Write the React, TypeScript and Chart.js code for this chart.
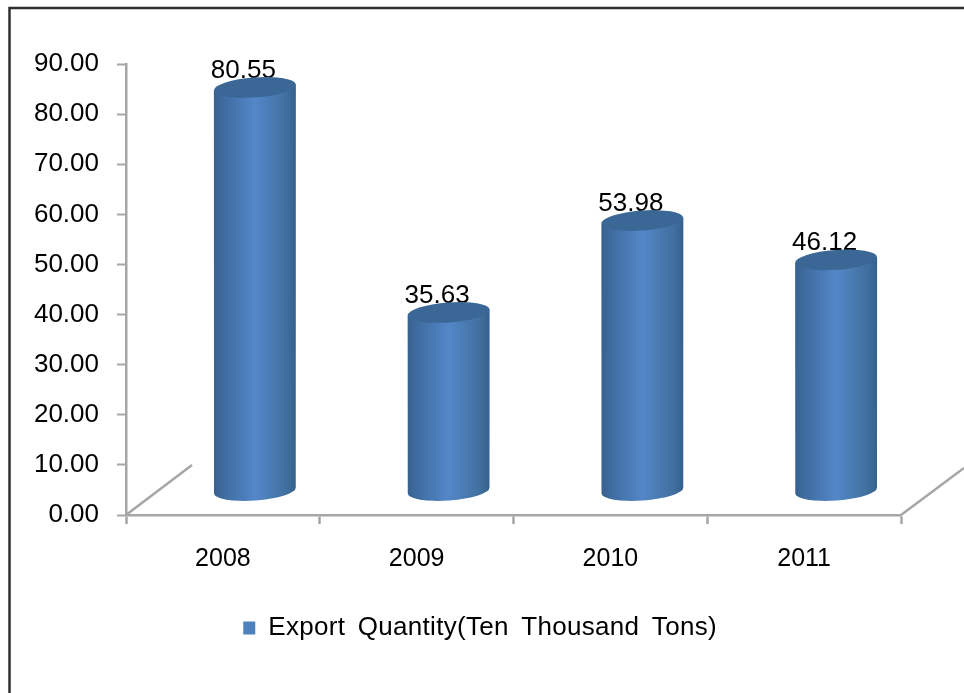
import React, { useEffect, useRef } from "react";
import { Chart, registerables } from "chart.js";

Chart.register(...registerables);

const categories = ["2008", "2009", "2010", "2011"];
const seriesName = "Export Quantity(Ten Thousand Tons)";
const exportQuantity = [80.55, 35.63, 53.98, 46.12];
const FONT = "'Liberation Sans', Arial, sans-serif";

const framePlugin = {
  id: "frame",
  afterLayout(chart: any) {
    const legend = chart.legend;
    if (legend && !legend.__wrapped) {
      legend.__wrapped = true;
      const original = legend.draw.bind(legend);
      legend.draw = () => {
        const c = chart.ctx;
        c.save();
        c.wordSpacing = "5px";
        c.letterSpacing = "0.3px";
        original();
        c.restore();
      };
    }
    if (legend) {
      legend.left += 17;
      legend.right += 17;
    }
  },
  beforeDraw(chart: any) {
    const { ctx, chartArea: a, width, height } = chart;
    ctx.save();
    ctx.fillStyle = "#fff";
    ctx.fillRect(0, 0, width, height);
    ctx.strokeStyle = "#2f2f2f";
    ctx.lineWidth = 2.5;
    ctx.beginPath();
    ctx.moveTo(9.5, height);
    ctx.lineTo(9.5, 8);
    ctx.lineTo(width, 8);
    ctx.stroke();
    ctx.strokeStyle = "#a6a6a6";
    ctx.lineWidth = 2.5;
    ctx.beginPath();
    ctx.moveTo(a.left, a.bottom);
    ctx.lineTo(a.left + 66, a.bottom - 50);
    ctx.moveTo(a.right, a.bottom);
    ctx.lineTo(width, a.bottom - 47);
    ctx.stroke();
    ctx.restore();
  },
};

const cylinderPlugin = {
  id: "cylinders",
  afterDatasetsDraw(chart: any) {
    const { ctx } = chart;
    const meta = chart.getDatasetMeta(0);
    const dx = 32;
    const dy = -24;
    const tilt = (-4.2 * Math.PI) / 180;
    const ry = 10;
    meta.data.forEach((bar: any, i: number) => {
      ctx.save();
      ctx.fillStyle = "#000";
      ctx.font = `26px ${FONT}`;
      ctx.textAlign = "center";
      ctx.textBaseline = "middle";
      ctx.fillText(exportQuantity[i].toFixed(2), bar.x + 20.5, bar.y - 41);
      ctx.restore();
    });
    meta.data.forEach((bar: any) => {
      const cx = bar.x + dx;
      const top = bar.y + dy;
      const base = bar.base + dy;
      const rx = bar.width / 2;
      const skew = rx * Math.sin(tilt);
      const g = ctx.createLinearGradient(cx - rx, 0, cx + rx, 0);
      g.addColorStop(0, "#38618f");
      g.addColorStop(0.12, "#3f6ca0");
      g.addColorStop(0.5, "#5387c8");
      g.addColorStop(0.88, "#41709f");
      g.addColorStop(1, "#36608c");
      ctx.save();
      ctx.fillStyle = g;
      ctx.beginPath();
      ctx.ellipse(cx, base, rx, ry, tilt, 0, Math.PI);
      ctx.lineTo(cx - rx, top - skew);
      ctx.lineTo(cx + rx, top + skew);
      ctx.closePath();
      ctx.fill();
      ctx.fillStyle = "#3a6795";
      ctx.beginPath();
      ctx.ellipse(cx, top, rx, ry, tilt, 0, Math.PI * 2);
      ctx.fill();
      ctx.restore();
    });
  },
};

export default function App() {
  const ref = useRef<HTMLCanvasElement>(null);
  useEffect(() => {
    const chart = new Chart(ref.current!, {
      type: "bar",
      data: {
        labels: categories,
        datasets: [
          {
            label: seriesName,
            data: exportQuantity,
            backgroundColor: "rgba(0,0,0,0)",
            barPercentage: 0.423,
            categoryPercentage: 1,
          },
        ],
      },
      options: {
        responsive: false,
        animation: false,
        layout: { padding: { top: 64, right: 63, bottom: 42, left: 0 } },
        plugins: {
          tooltip: { enabled: false },
          title: { display: false },
          legend: {
            position: "bottom",
            labels: {
              color: "#000",
              font: { family: FONT, size: 26 },
              boxWidth: 12,
              boxHeight: 13,
              padding: 8,
              generateLabels: () => [
                {
                  text: seriesName,
                  fillStyle: "#4f81bd",
                  strokeStyle: "#4f81bd",
                  lineWidth: 0,
                  datasetIndex: 0,
                },
              ],
            },
          },
        },
        scales: {
          x: {
            grid: { drawOnChartArea: false, color: "#a6a6a6", tickLength: 9, tickWidth: 2.5, offset: true },
            border: { color: "#a6a6a6", width: 2.5 },
            ticks: { color: "#000", font: { family: FONT, size: 25 }, padding: 20, maxRotation: 0 },
            afterFit: (s: any) => {
              s.height = 92;
            },
          },
          y: {
            min: 0,
            max: 90,
            grid: { drawOnChartArea: false, color: "#a6a6a6", tickLength: 9, tickWidth: 2 },
            border: { color: "#a6a6a6", width: 2.5 },
            ticks: {
              stepSize: 10,
              color: "#000",
              font: { family: FONT, size: 26 },
              padding: 18,
              callback: (v: any) => Number(v).toFixed(2),
            },
            afterFit: (s: any) => {
              s.width = 126;
            },
          },
        },
      },
      plugins: [framePlugin, cylinderPlugin],
    } as any);
    return () => chart.destroy();
  }, []);
  return (
    <div style={{ position: "fixed", left: 0, top: 0, width: 964, height: 693, background: "#fff" }}>
      <canvas ref={ref} width={964} height={693} style={{ display: "block" }} />
    </div>
  );
}
